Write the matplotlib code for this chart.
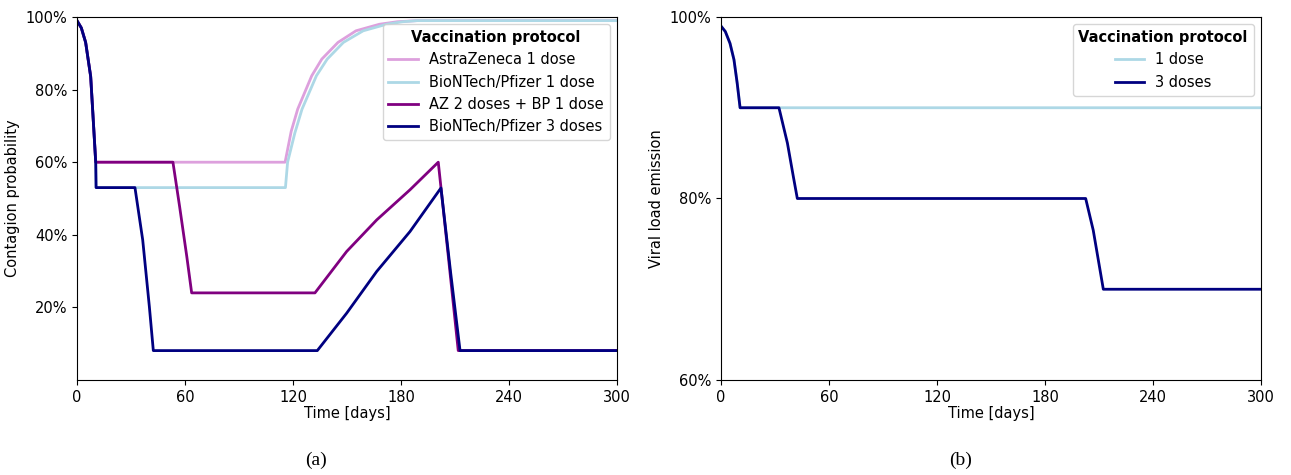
import matplotlib.pyplot as plt
from matplotlib.ticker import PercentFormatter

# contagion probability (%), left panel
az1_days = [0, 2.4, 4.8, 7.6, 8.7, 10.4, 115.6, 119, 122.6, 130.4, 136, 145, 155, 168, 178, 189, 300]
az1_vals = [99, 97, 93, 83.6, 74.4, 60, 60, 68.5, 74.6, 83.8, 88.4, 93, 96.2, 98, 98.7, 99, 99]

bp1_days = [0, 2.4, 4.8, 7.6, 8.7, 10.4, 10.6, 115.8, 117, 121, 125, 133, 139, 148, 159, 172, 181, 189, 300]
bp1_vals = [99, 97, 93, 83.6, 74.4, 60, 53, 53, 60, 68, 74.6, 83.8, 88.4, 93, 96.2, 98, 98.7, 99, 99]

az2bp1_days = [0, 2.4, 4.8, 7.6, 8.7, 10.4, 53.3, 57, 61, 63.7, 132.2, 149.8, 166.5, 185, 200.7, 206.3, 211.8, 300]
az2bp1_vals = [99, 97, 93, 83.6, 74.4, 60, 60, 47.8, 34, 24, 24, 35.4, 44.1, 52.4, 60, 34, 8.1, 8.1]

bp3_days = [0, 2.4, 4.8, 7.6, 8.7, 10.4, 10.6, 32.2, 36.5, 40.2, 42.4, 133.5, 149.8, 166.5, 185, 202.2, 207.6, 212.8, 300]
bp3_vals = [99, 97, 93, 83.6, 74.4, 60, 53, 53, 38.6, 20.2, 8.1, 8.1, 18.4, 29.9, 40.9, 52.9, 29.5, 8.1, 8.1]

# viral load emission (%), right panel
v1_days = [0, 2.4, 5, 7.2, 9, 10.6, 300]
v1_vals = [99, 98.4, 97.1, 95.3, 92.7, 90, 90]

v3_days = [0, 2.4, 5, 7.2, 9, 10.6, 32.2, 36.9, 40.2, 42.4, 202.6, 206.8, 212.4, 300]
v3_vals = [99, 98.4, 97.1, 95.3, 92.7, 90, 90, 86.1, 82.4, 80, 80, 76.5, 70, 70]

plt.rcParams['font.size'] = 10.5
W, H = 1291, 475
fig = plt.figure(figsize=(W / 100, H / 100), dpi=100)

ax1 = fig.add_axes([77 / W, 1 - 380 / H, 540 / W, 363 / H])
ax1.plot(az1_days, az1_vals, color='plum', lw=2, label='AstraZeneca 1 dose')
ax1.plot(bp1_days, bp1_vals, color='lightblue', lw=2, label='BioNTech/Pfizer 1 dose')
ax1.plot(az2bp1_days, az2bp1_vals, color='purple', lw=2, label='AZ 2 doses + BP 1 dose')
ax1.plot(bp3_days, bp3_vals, color='navy', lw=2, label='BioNTech/Pfizer 3 doses')
ax1.set_xlim(0, 300)
ax1.set_ylim(0, 100)
ax1.set_xticks(range(0, 301, 60))
ax1.set_yticks([20, 40, 60, 80, 100])
ax1.yaxis.set_major_formatter(PercentFormatter(100, decimals=0))
ax1.set_xlabel('Time [days]', labelpad=1)
ax1.set_ylabel('Contagion probability')
leg = ax1.legend(title='Vaccination protocol', loc='upper right')
leg.get_title().set_fontweight('bold')

ax2 = fig.add_axes([721 / W, 1 - 380 / H, 540 / W, 363 / H])
ax2.plot(v1_days, v1_vals, color='lightblue', lw=2, label='1 dose')
ax2.plot(v3_days, v3_vals, color='navy', lw=2, label='3 doses')
ax2.set_xlim(0, 300)
ax2.set_ylim(60, 100)
ax2.set_xticks(range(0, 301, 60))
ax2.set_yticks([60, 80, 100])
ax2.yaxis.set_major_formatter(PercentFormatter(100, decimals=0))
ax2.set_xlabel('Time [days]', labelpad=1)
ax2.set_ylabel('Viral load emission')
leg2 = ax2.legend(title='Vaccination protocol', loc='upper right')
leg2.get_title().set_fontweight('bold')

fig.text(316 / W, 1 - 460 / H, '(a)', ha='center', va='center',
         family='Liberation Serif', fontsize=14)
fig.text(961 / W, 1 - 460 / H, '(b)', ha='center', va='center',
         family='Liberation Serif', fontsize=14)

fig.savefig('out.png', dpi=100)
